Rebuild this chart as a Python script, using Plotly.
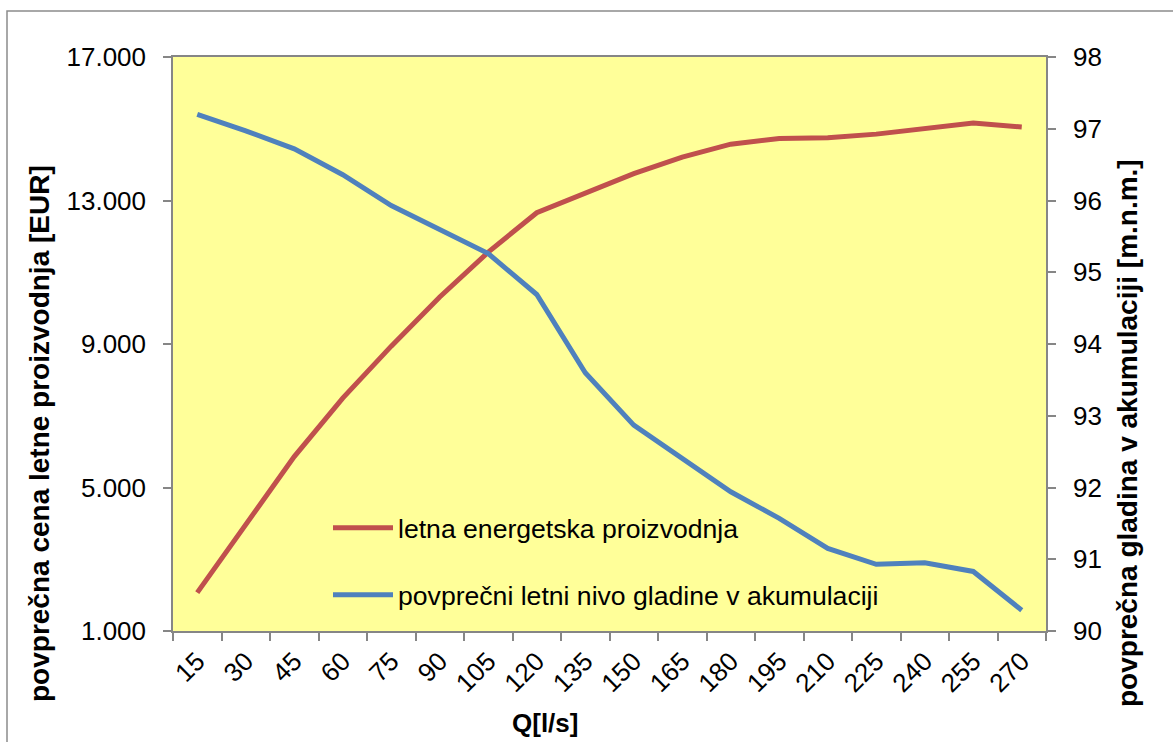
import plotly.graph_objects as go

# ---- data ----
q_labels = ["15", "30", "45", "60", "75", "90", "105", "120", "135", "150",
            "165", "180", "195", "210", "225", "240", "255", "270"]
energy_cost = [2070, 3960, 5860, 7490, 8940, 10310, 11560, 12660, 13200, 13750,
               14210, 14570, 14730, 14750, 14850, 15000, 15160, 15050]
water_level = [97.20, 96.97, 96.72, 96.36, 95.93, 95.59, 95.26, 94.69, 93.60, 92.87,
               92.41, 91.94, 91.57, 91.15, 90.93, 90.95, 90.83, 90.29]
left_ticks = [1000, 5000, 9000, 13000, 17000]
left_ticktext = ["1.000", "5.000", "9.000", "13.000", "17.000"]
right_ticks = [90, 91, 92, 93, 94, 95, 96, 97, 98]

name_red = "letna energetska proizvodnja"
name_blue = "povprečni letni nivo gladine v akumulaciji"
title_left = "povprečna cena letne proizvodnja [EUR]"
title_right = "povprečna gladina v akumulaciji [m.n.m.]"
title_x = "Q[l/s]"

RED = "#C0504D"
BLUE = "#4F81BD"
AX = "#868686"
FONT = "Liberation Sans, Arial, sans-serif"

W, H = 1173, 742
L, R, T, B = 173, 127, 57, 111
PW, PH = W - L - R, H - T - B


def px(x):
    return (x - L) / PW


def py(y):
    return (H - B - y) / PH


fig = go.Figure()
fig.add_trace(go.Scatter(x=q_labels, y=energy_cost, name=name_red, mode="lines",
                         line=dict(color=RED, width=5), yaxis="y", legend="legend"))
fig.add_trace(go.Scatter(x=q_labels, y=water_level, name=name_blue, mode="lines",
                         line=dict(color=BLUE, width=5), yaxis="y2", legend="legend2"))

axis_common = dict(showline=True, linecolor=AX, linewidth=1.5, ticks="outside",
                   ticklen=8, tickwidth=1.5, tickcolor=AX, showgrid=False,
                   zeroline=False, tickfont=dict(family=FONT, size=26, color="black"))

fig.update_layout(
    width=W, height=H,
    margin=dict(l=L, r=R, t=T, b=B, pad=0),
    paper_bgcolor="white",
    plot_bgcolor="#FFFF99",
    font=dict(family=FONT, size=26, color="black"),
    xaxis=dict(type="category", tickson="boundaries", tickangle=-45, mirror=True,
               range=[-0.5, len(q_labels) - 0.5],
               ticklabelstandoff=3, **axis_common),
    yaxis=dict(range=[1000, 17000], tickvals=left_ticks, ticktext=left_ticktext,
               ticklabelstandoff=12, **axis_common),
    yaxis2=dict(range=[90, 98], tickvals=right_ticks, overlaying="y", side="right",
                ticklabelstandoff=12, **axis_common),
    legend=dict(x=px(328), y=py(528), xanchor="left", yanchor="middle",
                bgcolor="rgba(0,0,0,0)", itemwidth=60,
                font=dict(family=FONT, size=26.6, color="black")),
    legend2=dict(x=px(328), y=py(595), xanchor="left", yanchor="middle",
                 bgcolor="rgba(0,0,0,0)", itemwidth=60,
                 font=dict(family=FONT, size=26.6, color="black")),
    showlegend=True,
)

fig.add_annotation(text=title_left, x=px(39), y=py(434), xref="paper", yref="paper",
                   textangle=-90, showarrow=False, xanchor="center", yanchor="middle",
                   font=dict(family=FONT, size=28, color="black", weight="bold"))
fig.add_annotation(text=title_right, x=px(1128), y=py(433), xref="paper", yref="paper",
                   textangle=-90, showarrow=False, xanchor="center", yanchor="middle",
                   font=dict(family=FONT, size=28, color="black", weight="bold"))
fig.add_annotation(text=title_x, x=px(545), y=py(723), xref="paper", yref="paper",
                   showarrow=False, xanchor="center", yanchor="middle",
                   font=dict(family=FONT, size=26, color="black", weight="bold"))

# outer chart border
fig.add_shape(type="rect", xref="paper", yref="paper",
              x0=px(7), x1=px(1190), y0=py(11), y1=py(760),
              line=dict(color="#8C8C8C", width=1.5), fillcolor="rgba(0,0,0,0)")

fig.write_html("out.html", config={"responsive": False, "displayModeBar": False},
               post_script="document.body.style.margin='0';document.body.style.overflow='hidden';")
